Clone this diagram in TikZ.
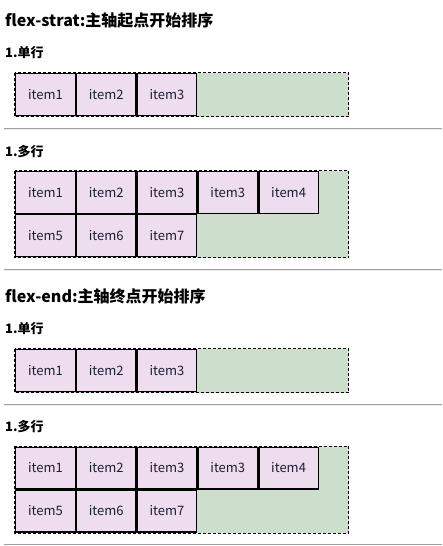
\documentclass[tikz,border=0pt]{standalone}
\usepackage{fontspec}
\setmainfont{Noto Sans CJK SC}
\usepackage{tikz}
\usetikzlibrary{positioning}
\definecolor{itempink}{RGB}{238,221,238}
\definecolor{boxgreen}{RGB}{205,222,204}
\definecolor{rulegray}{RGB}{160,160,160}
\definecolor{rulelight}{RGB}{236,236,236}
\definecolor{txtdark}{RGB}{30,30,50}
\tikzset{
  item/.style={rectangle, draw=black, fill=itempink, line width=1.3pt,
    minimum width=59.5pt, minimum height=41.7pt, inner sep=0pt,
    font=\fontsize{13}{15}\selectfont, text=txtdark},
  flexfill/.style={fill=boxgreen},
  flexedge/.style={draw=black, line width=1pt, dash pattern=on 3pt off 2pt},
  heading/.style={anchor=base west, inner sep=0pt,
    font=\fontsize{16}{19}\selectfont\bfseries},
  subheading/.style={anchor=base west, inner sep=0pt,
    font=\fontsize{13}{15}\selectfont\bfseries},
  hrule/.style={draw=rulegray, line width=1pt},
  hshade/.style={draw=rulelight, line width=1pt}
}

\begin{document}
\begin{tikzpicture}[x=1pt, y=-1pt]
  \useasboundingbox (0,0) rectangle (442,546);

  % flex-start
  \node[heading] (titleA) at (5,27) {flex-strat:主轴起点开始排序};
  \node[subheading] (subA1) at (5,57) {1.单行};

  % single row
  \fill[flexfill] (14.5,72.5) rectangle (348.5,116.5);
  \foreach \lbl [count=\i from 0] in {item1,item2,item3}
    \node[item] (a\i) at (45.4+60.8*\i, 94.5) {\lbl};
  \draw[flexedge] (14.5,72.5) rectangle (348.5,116.5);
  \coordinate (ruleAl) at (4,128);
  \coordinate (ruleAr) at (442,128);
  \draw[hrule] (ruleAl) -- (ruleAr);
  \draw[hshade] ([yshift=-1pt]ruleAl) -- ([yshift=-1pt]ruleAr);

  % multi row
  \node[subheading] (subA2) at (5,156) {1.多行};
  \fill[flexfill] (14.5,170.5) rectangle (348.5,257.5);
  \foreach \lbl [count=\i from 0] in {item1,item2,item3,item3,item4}
    \node[item] (b\i) at (45.4+60.8*\i, 192.5) {\lbl};
  \foreach \lbl [count=\i from 0] in {item5,item6,item7}
    \node[item] (c\i) at (45.4+60.8*\i, 235.5) {\lbl};
  \draw[flexedge] (14.5,170.5) rectangle (348.5,257.5);
  \coordinate (ruleBl) at (4,269);
  \coordinate (ruleBr) at (442,269);
  \draw[hrule] (ruleBl) -- (ruleBr);
  \draw[hshade] ([yshift=-1pt]ruleBl) -- ([yshift=-1pt]ruleBr);

  % flex-end
  \node[heading] (titleB) at (5,302) {flex-end:主轴终点开始排序};
  \node[subheading] (subB1) at (5,333) {1.单行};

  % single row
  \fill[flexfill] (14.5,348.5) rectangle (348.5,392.5);
  \foreach \lbl [count=\i from 0] in {item1,item2,item3}
    \node[item] (d\i) at (45.4+60.8*\i, 370.5) {\lbl};
  \draw[flexedge] (14.5,348.5) rectangle (348.5,392.5);
  \coordinate (ruleCl) at (4,404);
  \coordinate (ruleCr) at (442,404);
  \draw[hrule] (ruleCl) -- (ruleCr);
  \draw[hshade] ([yshift=-1pt]ruleCl) -- ([yshift=-1pt]ruleCr);

  % multi row
  \node[subheading] (subB2) at (5,431) {1.多行};
  \fill[flexfill] (14.5,446) rectangle (348.5,533);
  \foreach \lbl [count=\i from 0] in {item1,item2,item3,item3,item4}
    \node[item] (e\i) at (45.4+60.8*\i, 468) {\lbl};
  \foreach \lbl [count=\i from 0] in {item5,item6,item7}
    \node[item] (f\i) at (45.4+60.8*\i, 511) {\lbl};
  \draw[flexedge] (14.5,446) rectangle (348.5,533);
  \coordinate (ruleDl) at (4,544.5);
  \coordinate (ruleDr) at (442,544.5);
  \draw[hrule] (ruleDl) -- (ruleDr);
\end{tikzpicture}
\end{document}
